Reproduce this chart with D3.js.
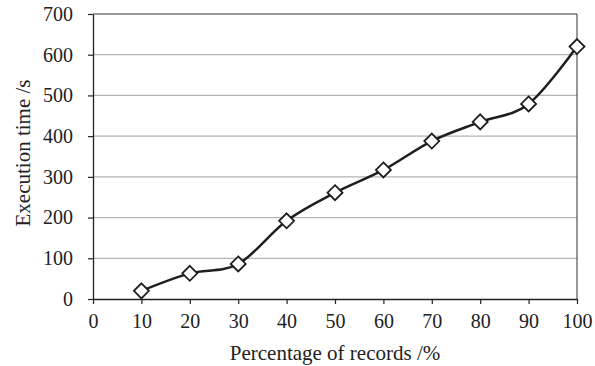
<!DOCTYPE html>
<html>
<head>
<meta charset="utf-8">
<script src="https://cdn.jsdelivr.net/npm/d3@7"></script>
<style>
  html, body { margin: 0; padding: 0; background: #fff; overflow: hidden; }
  svg { display: block; }
  text { font-family: "Liberation Serif", "Times New Roman", serif; fill: #222; }
</style>
</head>
<body>
<div id="chart"></div>
<script>
// data
var percentages = [10, 20, 30, 40, 50, 60, 70, 80, 90, 100];
var execTimes = [20, 63, 86, 192, 261, 317, 388, 435, 479, 620];
var xTicks = [0, 10, 20, 30, 40, 50, 60, 70, 80, 90, 100];
var yTicks = [0, 100, 200, 300, 400, 500, 600, 700];

var width = 595;
var height = 366;
var margins = { top: 14, right: 18, bottom: 67, left: 93 };
var innerWidth = width - margins.left - margins.right;
var innerHeight = height - margins.top - margins.bottom;

var svg = d3.select('#chart')
    .append('svg')
    .attr('width', width)
    .attr('height', height);

var g = svg.append('g')
    .attr('transform', 'translate(' + margins.left + ',' + margins.top + ')');

var x = d3.scaleLinear().domain([0, 100]).range([0, innerWidth]);
var y = d3.scaleLinear().domain([0, 700]).range([innerHeight, 0]);

// gridlines
g.append('g')
    .selectAll('line')
    .data(yTicks.filter(function(d) { return d > 0 && d < 700; }))
    .enter()
    .append('line')
    .attr('x1', 0)
    .attr('x2', innerWidth)
    .attr('y1', function(d) { return y(d); })
    .attr('y2', function(d) { return y(d); })
    .style('stroke', '#b4b4b4')
    .style('stroke-width', 1.2);

// frame top / right
g.append('line')
    .attr('x1', 0).attr('x2', innerWidth)
    .attr('y1', 0).attr('y2', 0)
    .style('stroke', '#333').style('stroke-width', 1);
g.append('line')
    .attr('x1', innerWidth).attr('x2', innerWidth)
    .attr('y1', 0).attr('y2', innerHeight)
    .style('stroke', '#333').style('stroke-width', 1);

// axes
var xAxis = g.append('g')
    .attr('transform', 'translate(0,' + innerHeight + ')')
    .call(d3.axisBottom(x).tickValues(xTicks).tickSize(5).tickSizeOuter(0).tickPadding(10));
var yAxis = g.append('g')
    .call(d3.axisLeft(y).tickValues(yTicks).tickSize(5).tickSizeOuter(0).tickPadding(15));

[xAxis, yAxis].forEach(function(a) {
    a.select('.domain').style('stroke', '#222').style('stroke-width', 1.3);
    a.selectAll('.tick line').style('stroke', '#222').style('stroke-width', 1.2);
    a.selectAll('.tick text')
        .style('font-family', '"Liberation Serif", serif')
        .style('font-size', '20px')
        .style('fill', '#222');
});

// line
var points = percentages.map(function(p, i) { return [p, execTimes[i]]; });
var line = d3.line()
    .x(function(d) { return x(d[0]); })
    .y(function(d) { return y(d[1]); })
    .curve(d3.curveCardinal.tension(0));

g.append('path')
    .datum(points)
    .attr('d', line)
    .style('fill', 'none')
    .style('stroke', '#1e1e1e')
    .style('stroke-width', 2.5);

// diamond markers
var r = 7.5;
g.append('g')
    .selectAll('path')
    .data(points)
    .enter()
    .append('path')
    .attr('d', function(d) {
        var cx = x(d[0]), cy = y(d[1]);
        return 'M' + cx + ',' + (cy - r) + 'L' + (cx + r) + ',' + cy +
            'L' + cx + ',' + (cy + r) + 'L' + (cx - r) + ',' + cy + 'Z';
    })
    .style('fill', '#fff')
    .style('stroke', '#1e1e1e')
    .style('stroke-width', 1.8);

// axis titles
svg.append('text')
    .attr('x', margins.left + innerWidth / 2)
    .attr('y', 360)
    .attr('text-anchor', 'middle')
    .style('font-size', '21px')
    .text('Percentage of records /%');

svg.append('text')
    .attr('transform', 'translate(30,' + 153 + ') rotate(-90)')
    .attr('text-anchor', 'middle')
    .style('font-size', '21px')
    .text('Execution time /s');
</script>
</body>
</html>
